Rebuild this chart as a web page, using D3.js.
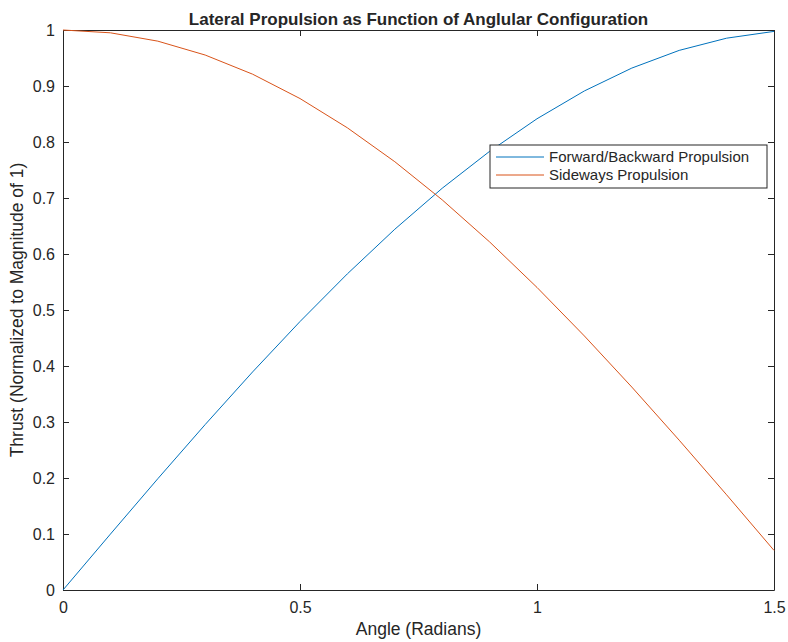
<!DOCTYPE html>
<html>
<head>
<meta charset="utf-8">
<script src="https://cdn.jsdelivr.net/npm/d3@7"></script>
<style>
  body { margin: 0; background: #fff; }
  text { font-family: "Liberation Sans", Arial, Helvetica, sans-serif; fill: #262626; }
</style>
</head>
<body>
<div id="container"></div>
<script>
// angulo (radianes), pasos de 0.1
var angles = [0, 0.1, 0.2, 0.3, 0.4, 0.5, 0.6, 0.7, 0.8, 0.9, 1.0, 1.1, 1.2, 1.3, 1.4, 1.5];
// valores
var forwardThrust = [0, 0.0998, 0.1987, 0.2955, 0.3894, 0.4794, 0.5646, 0.6442, 0.7174, 0.7833, 0.8415, 0.8912, 0.9320, 0.9636, 0.9854, 0.9975];
var sidewaysThrust = [1, 0.9950, 0.9801, 0.9553, 0.9211, 0.8776, 0.8253, 0.7648, 0.6967, 0.6216, 0.5403, 0.4536, 0.3624, 0.2675, 0.1700, 0.0707];
var seriesNames = ["Forward/Backward Propulsion", "Sideways Propulsion"];
var xTicks = [0, 0.5, 1, 1.5];
var yTicks = [0, 0.1, 0.2, 0.3, 0.4, 0.5, 0.6, 0.7, 0.8, 0.9, 1];

var w = 788, h = 642;
var margin = { top: 30, right: 14, bottom: 52, left: 63 };
var iw = w - margin.left - margin.right;
var ih = h - margin.top - margin.bottom;
var colors = ["#0072BD", "#D95319"];

var svg = d3.select("#container").append("svg")
    .attr("width", w)
    .attr("height", h);

var g = svg.append("g")
    .attr("transform", "translate(" + margin.left + "," + margin.top + ")");

var x = d3.scaleLinear().domain([0, 1.5]).range([0, iw]);
var y = d3.scaleLinear().domain([0, 1]).range([ih, 0]);

// ejes estilo matlab: ticks hacia dentro
var axisStyle = function (sel) {
    sel.select(".domain").attr("stroke", "#262626").attr("stroke-width", 1);
    sel.selectAll(".tick line").attr("stroke", "#262626");
    sel.selectAll(".tick text").style("font-size", "16px").attr("fill", "#262626");
};

var fmt = function (d) { return d3.format("")(d); };

g.append("g")
    .attr("transform", "translate(0," + ih + ")")
    .call(d3.axisBottom(x).tickValues(xTicks).tickSizeInner(-6).tickSizeOuter(0).tickPadding(12).tickFormat(fmt))
    .call(axisStyle);

g.append("g")
    .call(d3.axisTop(x).tickValues(xTicks).tickSizeInner(-6).tickSizeOuter(0).tickFormat(""))
    .call(axisStyle);

g.append("g")
    .call(d3.axisLeft(y).tickValues(yTicks).tickSizeInner(-6).tickSizeOuter(0).tickPadding(8).tickFormat(fmt))
    .call(axisStyle);

g.append("g")
    .attr("transform", "translate(" + iw + ",0)")
    .call(d3.axisRight(y).tickValues(yTicks).tickSizeInner(-6).tickSizeOuter(0).tickFormat(""))
    .call(axisStyle);

// lineas
var series = [forwardThrust, sidewaysThrust];
var line = d3.line()
    .x(function (d, i) { return x(angles[i]); })
    .y(function (d) { return y(d); });

g.selectAll(".serie")
    .data(series)
    .enter()
    .append("path")
    .attr("class", "serie")
    .attr("fill", "none")
    .attr("stroke", function (d, i) { return colors[i]; })
    .attr("stroke-width", 1)
    .attr("d", line);

// titulos
svg.append("text")
    .attr("x", margin.left + iw / 2)
    .attr("y", 25)
    .attr("text-anchor", "middle")
    .style("font-size", "17px")
    .style("font-weight", "bold")
    .attr("fill", "#000")
    .text("Lateral Propulsion as Function of Anglular Configuration");

svg.append("text")
    .attr("x", margin.left + iw / 2)
    .attr("y", 635)
    .attr("text-anchor", "middle")
    .style("font-size", "17.5px")
    .text("Angle (Radians)");

svg.append("text")
    .attr("transform", "translate(23," + (margin.top + ih / 2) + ") rotate(-90)")
    .attr("text-anchor", "middle")
    .style("font-size", "17.5px")
    .text("Thrust (Normalized to Magnitude of 1)");

// leyenda
var legend = svg.append("g")
    .attr("transform", "translate(490,145)");

legend.append("rect")
    .attr("width", 277)
    .attr("height", 43)
    .attr("fill", "#fff")
    .attr("stroke", "#262626")
    .attr("stroke-width", 1);

var items = legend.selectAll(".item")
    .data(seriesNames)
    .enter()
    .append("g")
    .attr("class", "item")
    .attr("transform", function (d, i) { return "translate(0," + (12 + i * 18) + ")"; });

items.append("line")
    .attr("x1", 6)
    .attr("x2", 54)
    .attr("stroke", function (d, i) { return colors[i]; })
    .attr("stroke-width", 1);

items.append("text")
    .attr("x", 59)
    .attr("dy", "0.35em")
    .style("font-size", "15px")
    .text(function (d) { return d; });
</script>
</body>
</html>
